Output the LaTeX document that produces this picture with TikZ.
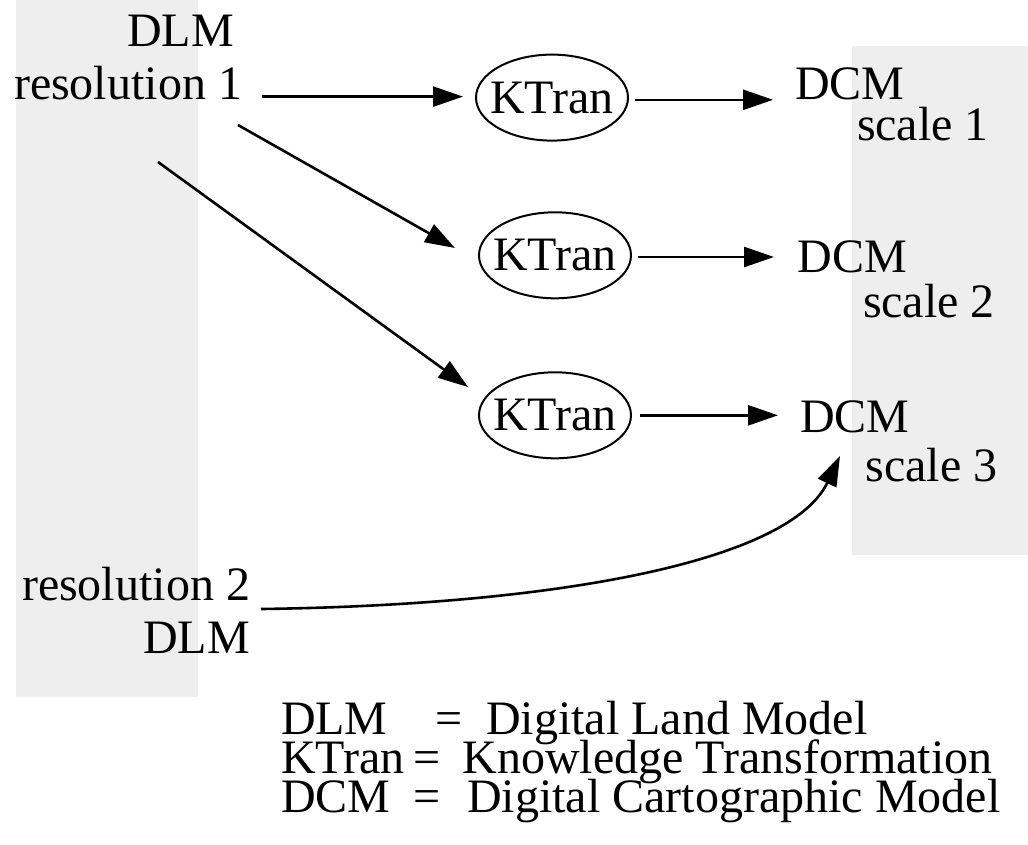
\documentclass[tikz,border=0pt]{standalone}
\usepackage{fontspec}
\setmainfont{Liberation Serif}
\usetikzlibrary{arrows.meta,shapes.geometric}
\definecolor{panelgray}{RGB}{238,238,238}
\newcommand{\rtwo}[3]{\vtop{\baselineskip=#1\lineskiplimit=-\maxdimen\halign{\hfil##\cr#2\cr#3\cr}}}
\newcommand{\ltwo}[4]{\vtop{\baselineskip=#1\lineskiplimit=-\maxdimen\halign{##\hfil\cr#2\cr\hspace*{#3}#4\cr}}}
\tikzset{
  lab/.style={inner sep=0pt, outer sep=0pt, font=\fontsize{48}{53}\selectfont},
  kt/.style={ellipse, draw, line width=2pt, minimum width=152pt, minimum height=86pt, inner sep=0pt, outer sep=0pt, font=\fontsize{48}{53}\selectfont},
  arr/.style={line width=2.6pt, -{Triangle[length=30pt,width=20pt]}},
  panel/.style={fill=panelgray, draw=none}
}
\begin{document}
\begin{tikzpicture}[x=1pt, y=-1pt]
\path[use as bounding box, fill=white] (0,0) rectangle (1028,844);
% gray panels
\path[panel] (16,0) rectangle (198,697);
\path[panel] (852,46) rectangle (1028,555);
% nodes
\node[lab, anchor=base east] (dlm1) at (242,46) {\rtwo{53pt}{DLM\hspace*{8pt}}{resolution 1}};
\node[lab, anchor=base east] (dlm2) at (250,600) {\rtwo{53pt}{resolution 2}{DLM}};
\node[kt] (k1) at (552,97.6) {\makebox[0pt]{KTran}};
\node[kt] (k2) at (555,255.3) {\makebox[0pt]{KTran}};
\node[kt] (k3) at (555,415.3) {\makebox[0pt]{KTran}};
\node[lab, anchor=base west] (dcm1) at (795,99.3) {\ltwo{41.4pt}{DCM}{62pt}{scale 1}};
\node[lab, anchor=base west] (dcm2) at (797.5,272.4) {\ltwo{45pt}{DCM}{65.5pt}{scale 2}};
\node[lab, anchor=base west] (dcm3) at (800,432.7) {\ltwo{49pt}{DCM}{65.5pt}{scale 3}};
% legend
\node[lab, anchor=base west] (legend) at (281,734) {\vtop{\baselineskip=39pt\lineskiplimit=-\maxdimen
  \hbox{\makebox[154.4pt][l]{DLM}\makebox[50.8pt][l]{=}Digital Land Model}
  \hbox{\makebox[132.4pt][l]{KTran}\makebox[49pt][l]{=}Knowledge Transformation}
  \hbox{\makebox[132.4pt][l]{DCM}\makebox[53.8pt][l]{=}Digital Cartographic Model}}};
% connectors
\draw[arr] ([shift={(20,50.6)}]dlm1.base east) -- ([shift={(-13,-1)}]k1.west);
\draw[arr] ([shift={(-4,79)}]dlm1.base east) -- ([shift={(-24,-7.3)}]k2.west);
\draw[arr] ([shift={(-84,116)}]dlm1.base east) -- ([shift={(-11,-28.3)}]k3.west);
\draw[arr] ([shift={(7,2.2)}]k1.east) -- ([shift={(-22,0.5)}]dcm1.base west);
\draw[arr] ([shift={(7,1.7)}]k2.east) -- ([shift={(-23.5,-15.4)}]dcm2.base west);
\draw[arr] ([shift={(9,0)}]k3.east) -- ([shift={(-22,-17.4)}]dcm3.base west);
\draw[arr] ([shift={(11,9)}]dlm2.base east) .. controls +(299,-4) and +(-50,105) .. ([shift={(40,23.3)}]dcm3.base west);
\end{tikzpicture}
\end{document}
